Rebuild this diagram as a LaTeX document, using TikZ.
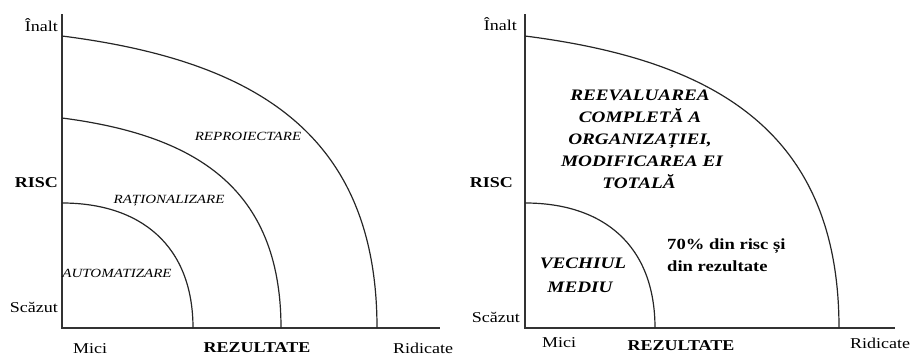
\documentclass[tikz,border=0pt]{standalone}
\usepackage{fontspec}
\setmainfont{Liberation Serif}[FakeStretch=1.2]
\begin{document}
\begin{tikzpicture}[x=1pt,y=-1pt,
  axis/.style={line width=1.5pt,black!80},
  curve/.style={line width=1.2pt,black!85},
  lbl/.style={inner sep=0pt,font=\fontsize{15}{18}\selectfont},
  blbl/.style={inner sep=0pt,font=\fontsize{15}{18}\selectfont\bfseries},
  ilbl/.style={inner sep=0pt,font=\fontsize{12.5}{15}\selectfont\itshape},
  bilbl/.style={inner sep=0pt,font=\fontsize{16}{22}\selectfont\bfseries\itshape},
  b2lbl/.style={inner sep=0pt,font=\fontsize{15.5}{20}\selectfont\bfseries}]
\useasboundingbox (0,0) rectangle (913,356);
% ---------- left panel ----------
\coordinate (LO) at (62,328);
\coordinate (LT) at (62,14);
\coordinate (LR) at (440,328);
\draw[axis] (LT) -- (LO) -- (LR);
\draw[curve] (62,36) .. controls (250,60) and (377,130) .. (377,328);
\draw[curve] (62,118) .. controls (193,135) and (281,186) .. (281,328);
\draw[curve] (62,203) .. controls (140,203) and (193,245) .. (193,328);
\node[lbl,anchor=base east] (lhigh) at (58,31) {Înalt};
\node[blbl,anchor=base east] (lrisc) at (58,187) {RISC};
\node[lbl,anchor=base east] (llow) at (58,312) {Scăzut};
\node[lbl,anchor=base west] (lmici) at (73,353) {Mici};
\node[blbl,anchor=base] (lrez) at (257,352) {REZULTATE};
\node[lbl,anchor=base west] (lrid) at (393,353) {Ridicate};
\node[ilbl,anchor=base] (lrepr) at (248,140) {REPROIECTARE};
\node[ilbl,anchor=base] (lrat) at (169,203) {RAȚIONALIZARE};
\node[ilbl,anchor=base] (laut) at (117,277) {AUTOMATIZARE};
% ---------- right panel ----------
\coordinate (RO) at (525,328);
\coordinate (RT) at (525,14);
\coordinate (RR) at (895,328);
\draw[axis] (RT) -- (RO) -- (RR);
\draw[curve] (525,36) .. controls (713,60) and (839,130) .. (839,328);
\draw[curve] (525,203) .. controls (603,203) and (655,245) .. (655,328);
\node[lbl,anchor=base east] (rhigh) at (517,30) {Înalt};
\node[blbl,anchor=base east] (rrisc) at (513,187) {RISC};
\node[lbl,anchor=base east] (rlow) at (520,322) {Scăzut};
\node[lbl,anchor=base west] (rmici) at (542,347) {Mici};
\node[blbl,anchor=base] (rrez) at (681,350) {REZULTATE};
\node[lbl,anchor=base west] (rrid) at (850,348) {Ridicate};
\node[bilbl,anchor=base] (t1) at (640,100) {REEVALUAREA};
\node[bilbl,anchor=base] (t2) at (640,122) {COMPLETĂ A};
\node[bilbl,anchor=base] (t3) at (640,144) {ORGANIZAȚIEI,};
\node[bilbl,anchor=base] (t4) at (642,166) {MODIFICAREA EI};
\node[bilbl,anchor=base] (t5) at (639,188) {TOTALĂ};
\node[bilbl,anchor=base] (v1) at (583,268) {VECHIUL};
\node[bilbl,anchor=base] (v2) at (580,292) {MEDIU};
\node[b2lbl,anchor=base west] (p1) at (667,249) {70\% din risc și};
\node[b2lbl,anchor=base west] (p2) at (667,271) {din rezultate};
\end{tikzpicture}
\end{document}
